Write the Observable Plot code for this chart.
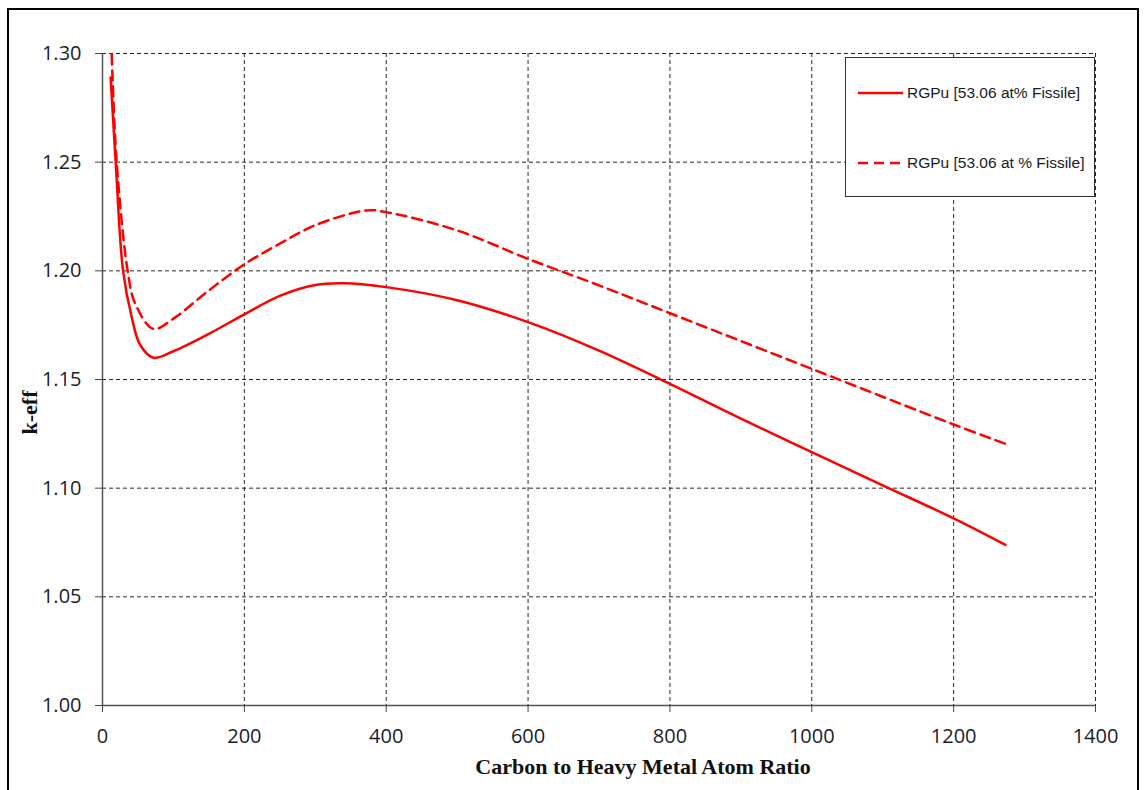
<!DOCTYPE html>
<html>
<head>
<meta charset="utf-8">
<script src="https://cdn.jsdelivr.net/npm/d3@7"></script>
<script src="https://cdn.jsdelivr.net/npm/@observablehq/plot@0.6"></script>
<style>
  html, body { margin: 0; padding: 0; background: #fff; }
  #wrap { position: relative; width: 1148px; height: 790px; overflow: hidden; }
  #frame { position: absolute; left: 7px; top: 8px; width: 1132px; height: 800px; border: 2px solid #000; box-sizing: border-box; pointer-events: none; }
  #chart { position: absolute; left: 0; top: 0; }
  #legend { position: absolute; left: 845px; top: 57px; width: 250px; height: 140px; box-sizing: border-box; border: 1px solid #333; background: #fff;
            font-family: "Liberation Sans", Arial, sans-serif; font-size: 15.5px; color: #1a1a1a; }
  .item { position: absolute; left: 11px; display: flex; align-items: center; }
  .item svg { margin-right: 3px; }
</style>
</head>
<body>
<div id="wrap">
  <div id="chart"></div>
  <div id="legend">
    <div class="item" style="top:25px"><svg width="47" height="20"><line x1="1" x2="46" y1="10" y2="10" stroke="#ff0000" stroke-width="2.5"/></svg><span id="lab0"></span></div>
    <div class="item" style="top:95px"><svg width="47" height="20"><line x1="1" x2="46" y1="10" y2="10" stroke="#ff0000" stroke-width="2.5" stroke-dasharray="10,6"/></svg><span id="lab1"></span></div>
  </div>
  <div id="frame"></div>
</div>
<script>
const seriesNames = ["RGPu [53.06 at% Fissile]", "RGPu [53.06 at % Fissile]"];

const solidX = [11.5, 18.6, 29, 41, 53, 72, 100, 150, 200, 250, 300, 340, 400, 500, 600, 700, 800, 900, 1000, 1100, 1200, 1273];
const solidY = [1.289, 1.25, 1.20, 1.179, 1.166, 1.160, 1.163, 1.171, 1.180, 1.1885, 1.1935, 1.1943, 1.1925, 1.1865, 1.1764, 1.1633, 1.148, 1.132, 1.1166, 1.1013, 1.0861, 1.0739];

const dashX = [13, 20, 35.5, 46, 72, 100, 150, 200, 250, 300, 372, 400, 500, 600, 700, 800, 1000, 1200, 1273];
const dashY = [1.2995, 1.25, 1.20, 1.185, 1.1733, 1.178, 1.191, 1.203, 1.2125, 1.221, 1.2278, 1.227, 1.2186, 1.2055, 1.1933, 1.1805, 1.1549, 1.1293, 1.1204];

const xTicks = [0, 200, 400, 600, 800, 1000, 1200, 1400];
const yTicks = [1.00, 1.05, 1.10, 1.15, 1.20, 1.25, 1.30];
const xLabel = "Carbon to Heavy Metal Atom Ratio";
const yLabel = "k-eff";

const solid = solidX.map((x, i) => ({x, y: solidY[i]}));
const dashed = dashX.map((x, i) => ({x, y: dashY[i]}));

document.getElementById("lab0").textContent = seriesNames[0];
document.getElementById("lab1").textContent = seriesNames[1];

const chart = Plot.plot({
  width: 1148,
  height: 790,
  marginLeft: 102,
  marginRight: 53,
  marginTop: 53,
  marginBottom: 85,
  x: {domain: [0, 1400]},
  y: {domain: [1.0, 1.3]},
  style: {fontFamily: "'Open Sans', Lato, sans-serif", background: "transparent"},
  marks: [
    Plot.gridX(xTicks.filter(d => d > 0), {stroke: "#000", strokeOpacity: 0.85, strokeWidth: 1, strokeDasharray: "4,3"}),
    Plot.gridY(yTicks.filter(d => d > 1.0), {stroke: "#000", strokeOpacity: 0.85, strokeWidth: 1, strokeDasharray: "4,3"}),
    Plot.ruleX([0], {stroke: "#555", strokeWidth: 1.5}),
    Plot.ruleY([1.0], {stroke: "#555", strokeWidth: 1.5}),
    Plot.axisX({ticks: xTicks, tickFormat: d3.format("d"), tickSize: 7, tickPadding: 16, fontSize: 20, label: null, stroke: "#444", color: "#1c1c2a"}),
    Plot.axisY({ticks: yTicks, tickFormat: d3.format(".2f"), tickSize: 7, tickPadding: 14, fontSize: 20, label: null, stroke: "#444", color: "#1c1c2a"}),
    Plot.line(solid, {x: "x", y: "y", stroke: "#ff0000", strokeWidth: 2.5, curve: "catmull-rom"}),
    Plot.line(dashed, {x: "x", y: "y", stroke: "#ff0000", strokeWidth: 2.5, strokeDasharray: "10,6", curve: "catmull-rom"}),
    Plot.text([xLabel], {frameAnchor: "bottom", dx: 44, dy: 68, text: d => d, fontSize: 22, fontWeight: "bold", fontFamily: "'Liberation Serif', 'Times New Roman', serif", fill: "#111"}),
    Plot.text([yLabel], {frameAnchor: "left", dx: -73, dy: 55, rotate: -90, text: d => d, fontSize: 22, fontWeight: "bold", fontFamily: "'Liberation Serif', 'Times New Roman', serif", fill: "#111"})
  ]
});
document.getElementById("chart").appendChild(chart);
</script>
</body>
</html>
